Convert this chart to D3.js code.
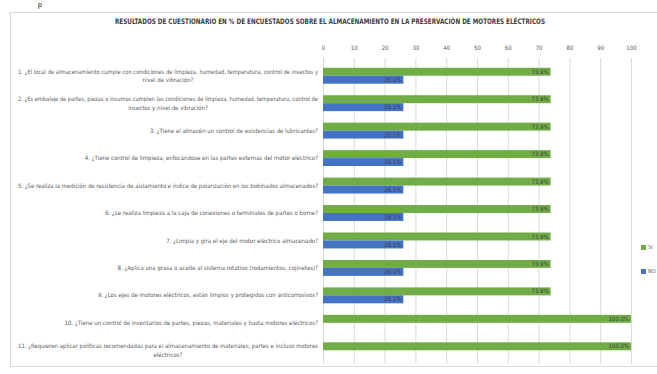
<!DOCTYPE html>
<html lang="es">
<head>
<meta charset="UTF-8">
<title>Almacenamiento motores eléctricos</title>
<script src="https://d3js.org/d3.v7.min.js"></script>
<style>
  body { margin: 0; background: #fff; }
  svg { display: block; font-family: "Liberation Sans Narrow", "DejaVu Sans Condensed", "Liberation Sans", sans-serif; }
</style>
</head>
<body>
<script>
var categories = [
  "1. ¿El local de almacenamiento cumple con condiciones de limpieza, humedad, temperatura, control de insectos y nivel de vibración?",
  "2. ¿Es embalaje de partes, piezas o insumos cumplen las condiciones de limpieza, humedad, temperatura, control de insectos y nivel de vibración?",
  "3. ¿Tiene el almacén un control de existencias de lubricantes?",
  "4. ¿Tiene control de limpieza, enfocándose en las partes externas del motor eléctrico?",
  "5. ¿Se realiza la medición de resistencia de aislamiento e índice de polarización en los bobinados almacenados?",
  "6. ¿Le realiza limpieza a la caja de conexiones o terminales de partes o borne?",
  "7. ¿Limpia y gira el eje del motor eléctrico almacenado?",
  "8. ¿Aplica una grasa o aceite al sistema rotativo (rodamientos, cojinetes)?",
  "9. ¿Los ejes de motores eléctricos, están limpios y protegidos con anticorrosivos?",
  "10. ¿Tiene un control de inventarios de partes, piezas, materiales y hasta motores eléctricos?",
  "11. ¿Requieren aplicar políticas recomendadas para el almacenamiento de materiales, partes e incluso motores eléctricos?"
];
var seriesNames = ["SI", "NO"];
var siValues = [73.9, 73.9, 73.9, 73.9, 73.9, 73.9, 73.9, 73.9, 73.9, 100, 100];
var noValues = [26.1, 26.1, 26.1, 26.1, 26.1, 26.1, 26.1, 26.1, 26.1, 0, 0];
var tickValues = [0, 10, 20, 30, 40, 50, 60, 70, 80, 90, 100];
var colors = ["#70ad47", "#4472c4"];
var title = "RESULTADOS DE CUESTIONARIO EN % DE ENCUESTADOS SOBRE EL ALMACENAMIENTO EN LA PRESERVACIÓN DE MOTORES ELÉCTRICOS";

var width = 657, height = 374;
var svg = d3.select("body").append("svg")
  .attr("width", width)
  .attr("height", height);

// piece of document text above the chart
svg.append("text")
  .attr("x", 38).attr("y", 7)
  .style("font-family", "Liberation Sans, sans-serif")
  .style("font-size", "7px")
  .attr("fill", "#000")
  .text("p");

// chart frame
svg.append("rect")
  .attr("x", 10.5).attr("y", 12.5)
  .attr("width", 700).attr("height", 354)
  .attr("fill", "#fff")
  .attr("stroke", "#d9d9d9");

svg.append("text")
  .attr("x", 330).attr("y", 24)
  .attr("text-anchor", "middle")
  .attr("textLength", 430)
  .attr("lengthAdjust", "spacingAndGlyphs")
  .style("font-size", "7.5px")
  .style("font-weight", "bold")
  .attr("fill", "#404040")
  .text(title);

var x = d3.scaleLinear().domain([0, 100]).range([323, 631]);
var y = d3.scaleBand().domain(categories).range([62, 364])
  .paddingInner(0.42).paddingOuter(0.21);
var ySub = d3.scaleBand().domain(seriesNames).range([0, y.bandwidth()]);

// gridlines + top tick labels
var xAxis = d3.axisTop(x).tickValues(tickValues).tickSize(-(364 - 58)).tickPadding(8);
var gx = svg.append("g").attr("transform", "translate(0,58)").call(xAxis);
gx.select(".domain").remove();
gx.selectAll(".tick line").attr("stroke", "#d9d9d9");
gx.selectAll(".tick text")
  .attr("fill", "#595959")
  .style("font-size", "6px")
  .style("font-family", "Liberation Sans Narrow, DejaVu Sans Condensed, sans-serif");

var rows = categories.map(function (c, i) {
  return { cat: c, vals: [siValues[i], noValues[i]] };
});

var groups = svg.selectAll("g.row").data(rows).enter().append("g")
  .attr("class", "row")
  .attr("transform", function (d) { return "translate(0," + y(d.cat) + ")"; });

var bars = groups.selectAll("g.bar").data(function (d) {
  return d.vals.map(function (v, k) { return { name: seriesNames[k], value: v, k: k }; })
    .filter(function (b) { return b.value > 0; });
}).enter().append("g").attr("class", "bar");

bars.append("rect")
  .attr("x", x(0))
  .attr("y", function (d) { return ySub(d.name); })
  .attr("width", function (d) { return x(d.value) - x(0); })
  .attr("height", ySub.bandwidth())
  .attr("fill", function (d) { return colors[d.k]; });

bars.append("text")
  .attr("x", function (d) { return x(d.value) - 2; })
  .attr("y", function (d) { return ySub(d.name) + ySub.bandwidth() / 2; })
  .attr("dy", "0.35em")
  .attr("text-anchor", "end")
  .attr("fill", "#404040")
  .style("font-size", "6px")
  .text(function (d) { return d3.format(".1f")(d.value) + "%"; });

// category labels, wrapped like Excel: block right aligned, lines centred
var labelRight = 318, maxW = 320, fitW = 300, lineH = 8.6, fs = "6px";
var measure = svg.append("text").style("font-size", fs);
function w(s) { measure.text(s); return measure.node().getComputedTextLength(); }

rows.forEach(function (r) {
  var words = r.cat.split(" "), lines = [], cur = "";
  words.forEach(function (wd) {
    var t = cur ? cur + " " + wd : wd;
    if (cur && w(t) > maxW) { lines.push(cur); cur = wd; } else { cur = t; }
  });
  lines.push(cur);
  var blockW = Math.min(fitW, d3.max(lines, w));
  var cx = labelRight - blockW / 2;
  var cy = y(r.cat) + y.bandwidth() / 2;
  var t = svg.append("text")
    .attr("text-anchor", "middle")
    .attr("fill", "#595959")
    .style("font-size", fs);
  lines.forEach(function (ln, i) {
    var sp = t.append("tspan")
      .attr("x", cx)
      .attr("y", cy + (i - (lines.length - 1) / 2) * lineH)
      .attr("dy", "0.35em")
      .text(ln);
    if (w(ln) > fitW) sp.attr("textLength", fitW).attr("lengthAdjust", "spacingAndGlyphs");
  });
});
measure.remove();

// legend at the right edge
var leg = svg.selectAll("g.leg").data(seriesNames).enter().append("g")
  .attr("class", "leg")
  .attr("transform", function (d, i) { return "translate(641," + (245 + i * 24) + ")"; });
leg.append("rect").attr("width", 5).attr("height", 5)
  .attr("fill", function (d, i) { return colors[i]; });
leg.append("text").attr("x", 7).attr("y", 2.5).attr("dy", "0.35em")
  .attr("fill", "#595959").style("font-size", "5.5px")
  .text(function (d) { return d; });
</script>
</body>
</html>
